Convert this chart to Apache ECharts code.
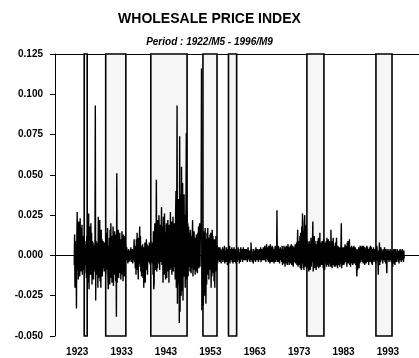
<!DOCTYPE html>
<html>
<head>
<meta charset="utf-8">
<script src="https://cdn.jsdelivr.net/npm/echarts@6/dist/echarts.min.js"></script>
<style>
  html, body { margin: 0; padding: 0; background: #fff; }
  #chart { width: 419px; height: 358px; }
</style>
</head>
<body>
<div id="chart"></div>
<script>
// Monthly rate of change of the wholesale price index, in thousandths (‰).
// Series runs from 1922/M5 to 1996/M9.
const wpi1920s = [
  // 1922 (May-Dec)
  -6, 13, -20, 9, -12, 6, -33, 10,
  // 1923
  27, -9, 14, -15, 21, -4, 11, -13, 23, 2, -10, 17,
  // 1924
  -7, 19, -12, 8, -5, 12, -9, 4, -11, 7, 3, -6,
  // 1925
  9, -14, 12, -8, 6, 15, -17, 26, -21, 10, -9, 18,
  // 1926
  -12, 20, -6, 14, -18, 9, -4, 8, -15, 6, -10, 5,
  // 1927
  7, 93, -28, 9, -6, 4, -12, 8, -20, 24, -14, 19,
  // 1928
  -9, 22, -16, 11, -20, 16, -5, 10, -13, 6, 9, -8,
  // 1929
  5, -10, 8, -4, 7, -12, 9, -6, 14, -9, 17, -13
];
const wpi1930s = [
  -21, 6, -15, 11, -18, 16, -9, 20, -14, 8, -17, 12,
  -10, 18, -19, 7, -12, 15, -8, 13, -16, 9, -38, 51,
  -17, 12, -8, 16, -14, 5, -11, 14, -6, 10, -15, 9,
  -12, 15, -4, 11, -16, 13, -9, 7, -13, 12, -7, 6,
  4, -3, 5, -2, 3, -5, 2, 4, -4, 1, -3, 3,
  -2, 5, -4, 3, -1, 4, -5, 2, -3, 4, 10, -4,
  3, -8, 6, -12, 10, -6, 14, -9, 8, -15, 11, -5,
  9, 18, -7, 12, -10, 6, -13, 4, -9, 7, -14, 5,
  -20, 3, -11, 8, -17, 6, -9, 10, -5, 7, -12, 4,
  -4, 6, -3, 8, -5, 3, -6, 9, 10, -4, 7, -5
];
const wpi1940s = [
  8, -12, 15, -21, -17, 12, 20, -9, 16, -6, 47, -10,
  14, -8, 22, 18, -5, 25, 12, -9, 19, 8, -4, 15,
  30, -6, 18, 10, -17, 24, 6, -12, 26, -8, 14, -15,
  9, 20, -14, 16, -10, 22, -5, 13, -17, 19, 4, -9,
  27, -8, 15, 21, -12, 18, -6, 24, -10, 14, 20, -7,
  12, -15, 25, 40, -20, 18, 93, -30, 22, 35, -18, 30,
  -42, 74, -35, 20, 38, -25, 55, 18, -22, 45, -28, 30,
  15, 38, -13, 25, -20, 12, 30, 76, -15, 28, -10, 20,
  -13, 18, 9, -7, 14, -10, 16, 6, -11, 12, -8, 10,
  22, -13, 8, -9, 15, -7, 11, -12, 6, -10, 13, -6
];
const wpi1950s = [
  9, -11, 14, -5, 18, -8, 12, 20, -7, 16, 10, 22,
  116, -34, 12, -28, 8, -31, 15, -20, 6, -25, 17, -12,
  -30, 10, -18, 14, -8, 17, -12, 9, -15, 11, -6, 13,
  -9, 14, -20, 8, -13, 16, -7, 12, -11, 6, -16, 10,
  -20, 9, -6, 12, -10, 5, -4, 6, -5, 3, -3, 5,
  3, -4, 5, -2, 4, -5, 3, 2, -3, 5, -4, 2,
  4, -3, 6, -5, 3, 2, -4, 5, -2, 3, -6, 4,
  -3, 5, -4, 2, 6, -5, 3, -2, 4, -3, 5, -4,
  2, -5, 4, -3, 5, -4, 3, -2, 4, -5, 2, 3,
  -4, 3, -2, 5, -3, 4, -5, 2, 3, -4, 5, -2
];
const wpi1960s = [
  3, -2, 4, -4, 2, 5, -3, 3, -2, 4, -3, 2,
  -2, 4, -3, 2, -4, 3, 5, -2, 3, -3, 2, -4,
  3, -3, 8, -2, 4, -4, 2, 3, -5, 4, -2, 3,
  -3, 2, -4, 5, -2, 3, -3, 4, -2, 3, -4, 2,
  4, -2, 3, -3, 5, -4, 2, 4, -3, 2, -2, 5,
  -3, 4, -2, 6, -3, 5, -4, 3, 7, -2, 4, -3,
  5, -4, 6, -3, 4, -5, 7, -2, 5, -4, 3, 6,
  -4, 5, -3, 4, -5, 3, -2, 6, -4, 5, 3, -3,
  28, -4, 5, -3, 6, -4, 4, -5, 3, 5, -3, 4,
  5, -4, 6, -6, 4, 3, -5, 6, -3, 4, -7, 5
];
const wpi1970s = [
  -5, 6, -3, 5, -6, 4, 7, -4, 3, -6, 5, -3,
  6, -5, 4, 7, -6, 5, -3, 6, -7, 4, -4, 5,
  -4, 7, -5, 6, -3, 8, -6, 5, 16, -7, 6, -5,
  9, -6, 12, -8, 14, 7, -9, 18, -5, 26, 11, -8,
  15, -9, 20, 25, -7, 12, -4, 19, -8, 10, -6, 8,
  -8, 6, -10, 9, -5, 7, -9, 5, 11, -7, 6, -4,
  8, 21, -10, 7, -6, 12, -8, 9, -5, 6, -9, 7,
  -6, 9, -7, 5, 11, -8, 6, -5, 14, -7, 8, -4,
  7, -6, 9, -5, 6, -8, 10, -4, 7, -9, 5, 8,
  -5, 9, -7, 11, -6, 8, -4, 10, -7, 9, -5, 6
];
const wpi1980s = [
  8, -7, 16, -6, 9, -8, 7, -5, 11, -6, 4, -7,
  6, -5, 8, -7, 5, 11, -6, 4, -8, 6, -4, 5,
  -6, 5, -7, 4, -5, 6, 20, -8, 5, -6, 4, -3,
  5, -6, 4, -5, 7, -4, 6, -3, 5, -7, 8, -4,
  9, -5, 6, -4, 10, -6, 5, -7, 4, -3, 6, -5,
  4, -6, 5, -3, 6, -5, 3, -4, 5, -6, 4, -7,
  -13, 3, -9, 4, -6, 5, -8, 3, -5, 6, -4, 3,
  5, -3, 6, -4, 4, -5, 6, -2, 4, -6, 5, -3,
  4, -5, 3, 6, -4, 5, -3, 4, -6, 3, -4, 5,
  -3, 6, -4, 5, -5, 4, -6, 3, -4, 5, -3, 4
];
const wpi1990s = [
  5, -4, 3, -5, 4, -3, 6, 5, 7, -4, -12, 3,
  -5, 8, -6, 3, -4, 5, -3, 4, -2, 3, -5, 2,
  -3, 4, -2, 5, -4, 3, -5, 4, -3, -11, 3, -2,
  4, -3, 2, -4, 3, -2, 4, -3, 2, -4, 3, -2,
  3, -7, 2, -3, 4, -5, 3, -6, 4, -3, 2, -4,
  -3, 4, -2, 3, -4, 2, -5, 3, -3, 4, -2, 3,
  // 1996 (Jan-Sep)
  -4, 3, -2, 4, -3, 2, -4, 3, -2
];

// Shaded sub-periods (decimal years)
const periodStart = [1924.58, 1929.42, 1939.58, 1951.33, 1957.08, 1974.75, 1990.30];
const periodEnd   = [1925.25, 1933.96, 1947.75, 1954.50, 1958.92, 1978.58, 1993.92];

// Axis labels
const yearLabels = [1923, 1933, 1943, 1953, 1963, 1973, 1983, 1993];
const yTicks = [-0.05, -0.025, 0, 0.025, 0.05, 0.075, 0.1, 0.125];

const monthly = [].concat(wpi1920s, wpi1930s, wpi1940s, wpi1950s,
                          wpi1960s, wpi1970s, wpi1980s, wpi1990s);
const firstMonth = 1922 + 4 / 12; // May 1922
const lineData = monthly.map((v, i) => [firstMonth + i / 12, v / 1000]);

const yearTicks = [];
for (let y = 1923; y <= 1996; y++) yearTicks.push(y);

const bandData = periodStart.map((s, i) => [{ xAxis: s }, { xAxis: periodEnd[i] }]);

const FONT = 'Liberation Sans, Arial, sans-serif';

const chart = echarts.init(document.getElementById('chart'), null, { renderer: 'canvas' });
chart.setOption({
  animation: false,
  backgroundColor: '#fff',
  title: {
    text: 'WHOLESALE PRICE INDEX',
    subtext: 'Period : 1922/M5 - 1996/M9',
    left: 'center',
    top: 7,
    itemGap: 11,
    textStyle: { fontFamily: FONT, fontSize: 14, fontWeight: 'bold', color: '#000' },
    subtextStyle: { fontFamily: FONT, fontSize: 10, fontWeight: 'bold', fontStyle: 'italic', color: '#000' }
  },
  grid: { left: 55, right: 0, top: 54, bottom: 22 },
  xAxis: [{
    type: 'value',
    min: 1918,
    max: 2000,
    splitLine: { show: false },
    axisLine: { show: true, lineStyle: { color: '#000', width: 1 } },
    axisTick: { show: true, customValues: yearTicks, length: 4, lineStyle: { color: '#000', width: 1 } },
    axisLabel: {
      customValues: yearLabels,
      formatter: v => String(v),
      margin: 11,
      fontFamily: FONT, fontSize: 10, fontWeight: 'bold', color: '#000'
    }
  }, {
    type: 'value',
    position: 'top',
    min: 1918,
    max: 2000,
    splitLine: { show: false },
    axisLine: { show: true, onZero: false, lineStyle: { color: '#000', width: 1 } },
    axisTick: { show: false },
    axisLabel: { show: false }
  }],
  yAxis: {
    type: 'value',
    min: -0.05,
    max: 0.125,
    interval: 0.025,
    splitLine: { show: false },
    axisLine: { show: true, lineStyle: { color: '#000', width: 1 } },
    axisTick: { show: true, customValues: yTicks, length: 5, lineStyle: { color: '#000', width: 1 } },
    axisLabel: {
      formatter: v => v.toFixed(3),
      margin: 12,
      fontFamily: FONT, fontSize: 10, fontWeight: 'bold', color: '#000'
    }
  },
  series: [{
    type: 'line',
    name: 'periods',
    data: [],
    z: 1,
    markArea: {
      silent: true,
      itemStyle: { color: '#f6f6f6', borderColor: '#000', borderWidth: 1.6 },
      data: bandData
    }
  }, {
    type: 'line',
    name: 'WPI',
    data: lineData,
    z: 3,
    showSymbol: false,
    symbol: 'none',
    lineStyle: { color: '#000', width: 1.4 },
    markLine: {
      silent: true,
      symbol: 'none',
      label: { show: false },
      lineStyle: { color: '#000', width: 1, type: 'solid' },
      data: [{ yAxis: 0 }]
    }
  }]
});
</script>
</body>
</html>
